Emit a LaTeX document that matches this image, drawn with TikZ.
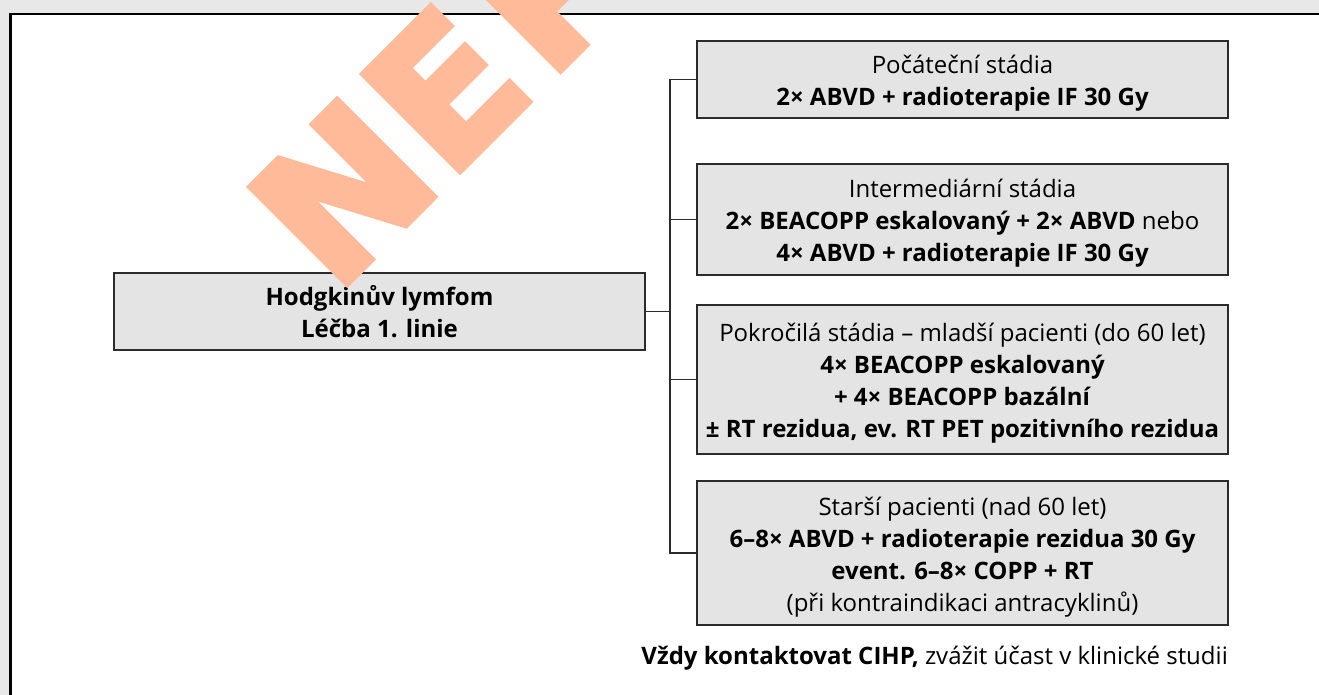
\documentclass[tikz,border=0pt]{standalone}
\usepackage{fontspec}
\setmainfont{Open Sans}
\newfontfamily\stampfont{DejaVu Sans}[BoldFeatures={FakeBold=4}]

\definecolor{boxfill}{HTML}{E3E4E3}
\definecolor{boxline}{HTML}{2B2B2B}
\definecolor{pagegray}{HTML}{E8E8E8}
\definecolor{wmark}{RGB}{255,187,153}

% fixed height for the first text line of a box
\newcommand\topgap{\rule{0pt}{26pt}}

\tikzset{
  stage/.style={draw=boxline, line width=1.3pt, fill=boxfill,
    minimum width=531pt, align=center, inner sep=0pt,
    font=\fontsize{24}{32}\selectfont},
  link/.style={draw=boxline, line width=1.1pt},
}

\begin{document}
\begin{tikzpicture}[x=1pt,y=-1pt]
\useasboundingbox (0,0) rectangle (1319,695);

% sheet and outer frame
\fill[pagegray] (0,0) rectangle (1319,695);
\fill[white] (10.5,14) rectangle (1319,695);
\draw[line width=2.7pt] (10.5,700) -- (10.5,14) -- (1325,14);

% root box
\node[stage, minimum height=77pt] (main) at (379.5,311.5)
  {\textbf{Hodgkinův lymfom}\\\textbf{Léčba 1. linie}};

% treatment boxes
\node[stage, minimum height=77pt] (b1) at (962.5,79.5)
  {\topgap Počáteční stádia\\\textbf{2× ABVD + radioterapie IF 30 Gy}};
\node[stage, minimum height=111pt] (b2) at (962.5,219.5)
  {\topgap Intermediární stádia\\\textbf{2× BEACOPP eskalovaný + 2× ABVD} nebo\\\textbf{4× ABVD + radioterapie IF 30 Gy}};
\node[stage, minimum height=149pt] (b3) at (962.5,379.5)
  {\topgap Pokročilá stádia – mladší pacienti (do 60 let)\\\textbf{4× BEACOPP eskalovaný}\\\textbf{+ 4× BEACOPP bazální}\\\textbf{± RT rezidua, ev. RT PET pozitivního rezidua}};
\node[stage, minimum height=144pt] (b4) at (962.5,553)
  {\topgap Starší pacienti (nad 60 let)\\\textbf{6–8× ABVD + radioterapie rezidua 30 Gy}\\\textbf{event. 6–8× COPP + RT}\\(při kontraindikaci antracyklinů)};

% footnote
\node[anchor=east, inner sep=0pt, font=\fontsize{24}{32}\selectfont] (note) at (1228,658)
  {\textbf{Vždy kontaktovat CIHP,} zvážit účast v klinické studii};

% connectors
\coordinate (spine) at (670,0);
\draw[link] (main.east) -- (main.east -| spine);
\draw[link] (b1.west) -- (b1.west -| spine) -- (b4.west -| spine) -- (b4.west);
\draw[link] (b2.west) -- (b2.west -| spine);
\draw[link] (b3.west) -- (b3.west -| spine);

% stamp
\begin{scope}
  \clip (0,0) rectangle (1319,695);
  \node[rotate=45, anchor=base west, inner sep=0pt, text=wmark,
    font=\fontsize{186}{186}\selectfont\stampfont\bfseries] (stamp) at (335,295)
    {N\kern4pt E\kern15pt P};
\end{scope}
\end{tikzpicture}
\end{document}
